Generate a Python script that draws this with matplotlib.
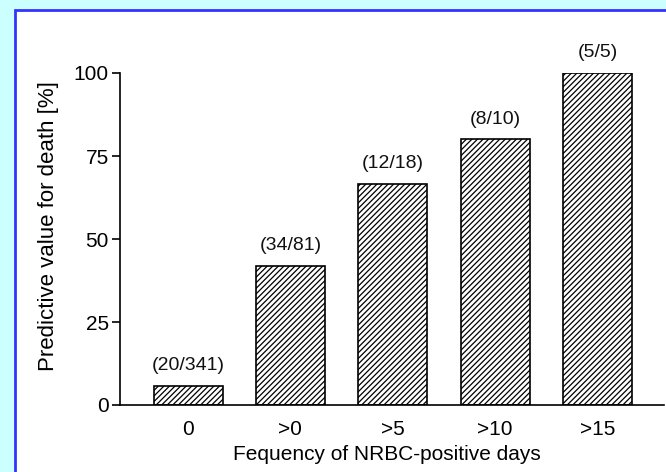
import matplotlib.pyplot as plt
from matplotlib.patches import Rectangle

plt.rcParams['font.family'] = ['Liberation Sans', 'DejaVu Sans']
plt.rcParams['hatch.linewidth'] = 0.9

# data
categories = ["0", ">0", ">5", ">10", ">15"]
deaths = [20, 34, 12, 8, 5]
totals = [341, 81, 18, 10, 5]
values = [100.0 * d / t for d, t in zip(deaths, totals)]
counts = ["(%d/%d)" % (d, t) for d, t in zip(deaths, totals)]
yticks = [0, 25, 50, 75, 100]

fig = plt.figure(figsize=(6.66, 4.72), dpi=100)
fig.patch.set_facecolor("#ccffff")

# white panel with blue frame, kept behind the axes
panel = Rectangle((15 / 666, -0.05), 1.0, 1 - 10 / 472 + 0.05,
                  transform=fig.transFigure, facecolor="white",
                  edgecolor="#3333ff", linewidth=2, zorder=-10)
fig.patches.append(panel)

ax = fig.add_axes([120 / 666, 1 - 405 / 472, 544 / 666, 332 / 472])
ax.set_facecolor("none")

x = range(len(categories))
bars = ax.bar(x, values, width=0.675, color="white", edgecolor="black",
              linewidth=1.2, hatch="//////")

for xi, v, c in zip(x, values, counts):
    ax.text(xi, v + 3.5, c, ha="center", va="bottom", fontsize=14,
            color="#111111", clip_on=False)

ax.set_xlim(-0.665, 4.65)
ax.set_ylim(0, 100)
ax.set_yticks(yticks)
ax.set_xticks(list(x))
ax.set_xticklabels(categories)

for s in ["top", "right"]:
    ax.spines[s].set_visible(False)
for s in ["left", "bottom"]:
    ax.spines[s].set_linewidth(1.2)

ax.tick_params(axis="y", length=6, width=1.2, labelsize=15, pad=2)
ax.tick_params(axis="x", length=0, labelsize=15, pad=11)

ax.set_ylabel("Predictive value for death [%]", fontsize=16)
ax.set_xlabel("Fequency of NRBC-positive days", fontsize=15)
ax.yaxis.set_label_coords(-0.113, 0.54)
ax.xaxis.set_label_coords(0.49, -0.12)

plt.savefig("out.png", dpi=100, facecolor=fig.get_facecolor())
